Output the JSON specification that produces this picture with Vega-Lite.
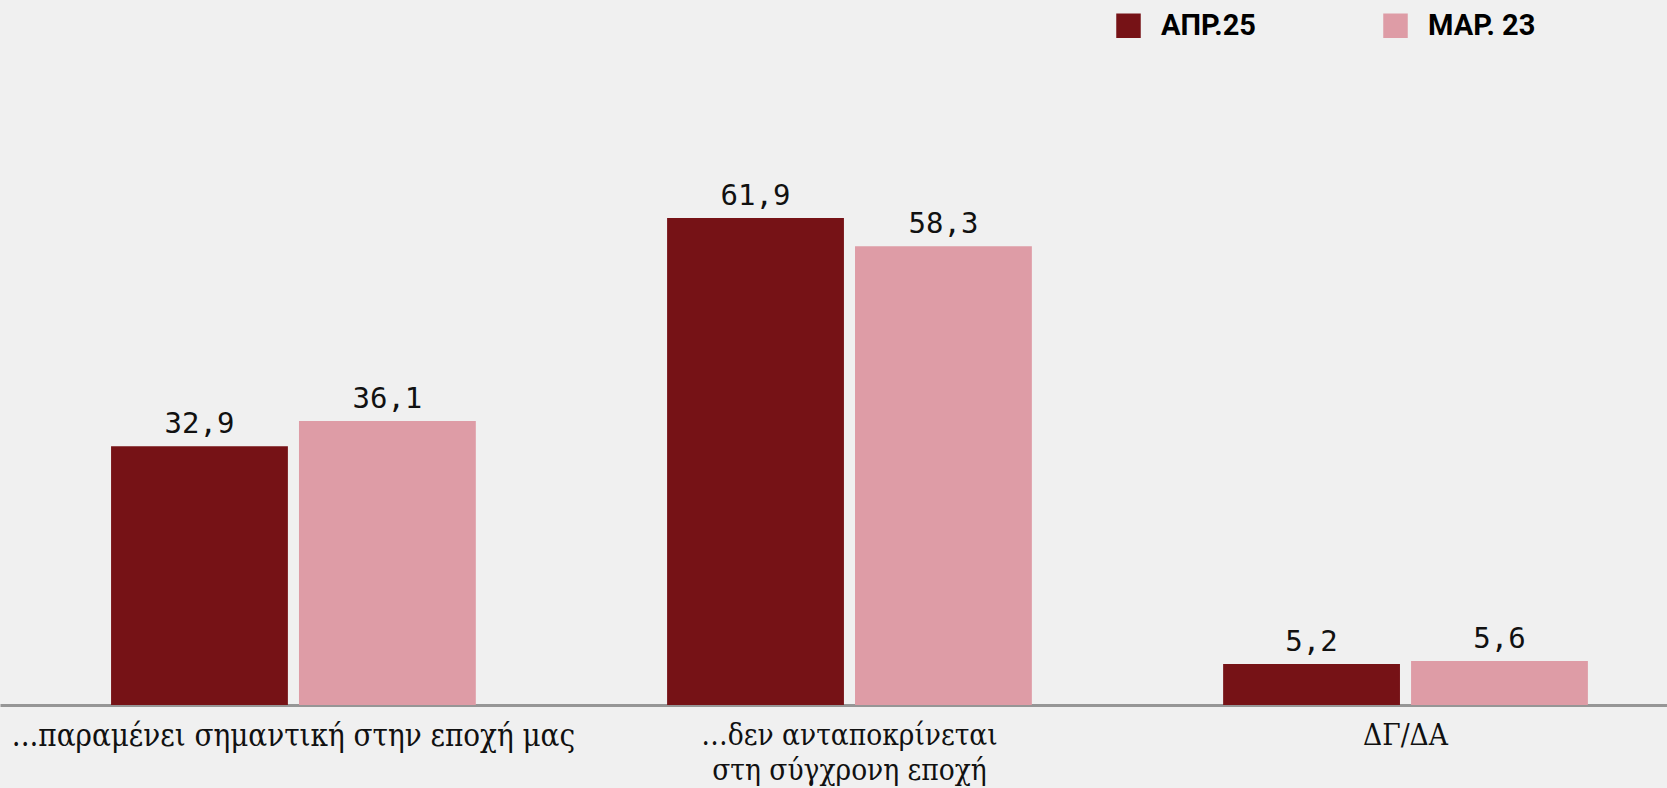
{
  "$schema": "https://vega.github.io/schema/vega-lite/v6.json",
  "width": 1667,
  "height": 705,
  "padding": {"left": 0, "top": 0, "right": 0, "bottom": 83},
  "autosize": {"type": "none"},
  "background": "#f0f0f0",
  "config": {
    "view": {"stroke": null},
    "locale": {"number": {"decimal": ",", "thousands": ".", "grouping": [3], "currency": ["", " €"]}}
  },
  "data": {
    "values": [
      {"category": "...παραμένει σημαντική στην εποχή μας", "period": "ΑΠΡ.25", "value": 32.9},
      {"category": "...παραμένει σημαντική στην εποχή μας", "period": "ΜΑΡ. 23", "value": 36.1},
      {"category": "…δεν ανταποκρίνεται|στη σύγχρονη εποχή", "period": "ΑΠΡ.25", "value": 61.9},
      {"category": "…δεν ανταποκρίνεται|στη σύγχρονη εποχή", "period": "ΜΑΡ. 23", "value": 58.3},
      {"category": "ΔΓ/ΔΑ", "period": "ΑΠΡ.25", "value": 5.2},
      {"category": "ΔΓ/ΔΑ", "period": "ΜΑΡ. 23", "value": 5.6}
    ]
  },
  "encoding": {
    "x": {
      "field": "category",
      "type": "nominal",
      "sort": null,
      "scale": {"paddingInner": 0.344, "paddingOuter": 0.171, "align": 0.584},
      "axis": {
        "title": null,
        "labelAngle": 0,
        "ticks": false,
        "domainColor": "#969696",
        "domainWidth": 3,
        "labelFont": "DejaVu Serif Condensed",
        "labelFontSize": {"condition": {"test": "indexof(datum.value, 'παραμένει') >= 0", "value": 31}, "value": 29.5},
        "labelColor": "#111111",
        "labelPadding": 16,
        "labelLimit": 0,
        "labelLineHeight": 35,
        "labelExpr": "split(datum.label, '|')"
      }
    },
    "xOffset": {
      "field": "period",
      "type": "nominal",
      "sort": null,
      "scale": {"paddingInner": 0.059}
    },
    "y": {
      "field": "value",
      "type": "quantitative",
      "scale": {"domain": [0, 89.6]},
      "axis": null
    }
  },
  "layer": [
    {
      "mark": {"type": "bar"},
      "encoding": {
        "color": {
          "field": "period",
          "type": "nominal",
          "sort": null,
          "scale": {"domain": ["ΑΠΡ.25", "ΜΑΡ. 23"], "range": ["#761216", "#de9ca6"]},
          "legend": {
            "orient": "none",
            "legendX": 1114,
            "legendY": 11,
            "direction": "horizontal",
            "title": null,
            "symbolType": "square",
            "symbolSize": 600,
            "symbolStrokeWidth": 0,
            "symbolOpacity": 1,
            "labelFont": "Roboto",
            "labelFontWeight": "bold",
            "labelFontSize": 29,
            "labelColor": "#000000",
            "labelOffset": 18,
            "columnPadding": 124,
            "labelLimit": 0
          }
        }
      }
    },
    {
      "mark": {"type": "text", "baseline": "alphabetic", "dy": -13, "font": "DejaVu Sans Mono", "fontSize": 29, "color": "#111111"},
      "encoding": {
        "text": {"field": "value", "type": "quantitative", "format": ".1f"}
      }
    }
  ]
}
